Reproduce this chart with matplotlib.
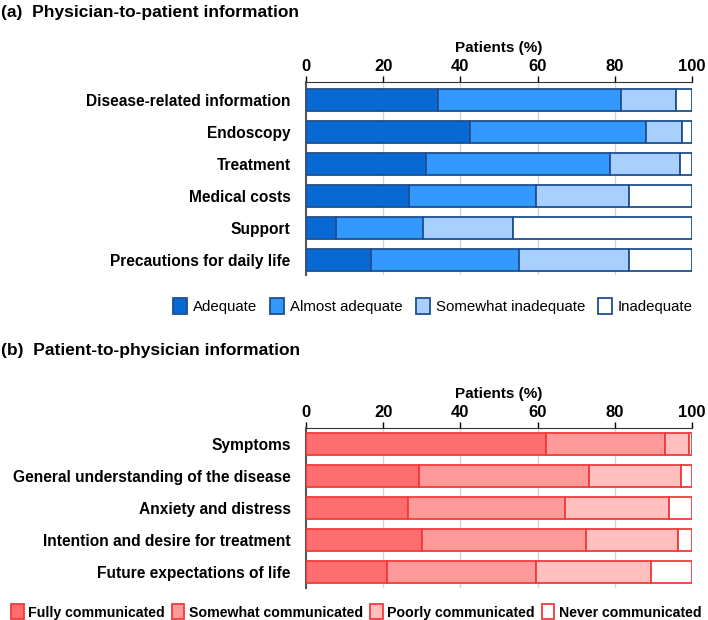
import numpy as np
import matplotlib.pyplot as plt
from matplotlib.patches import Patch

plt.rcParams['font.family'] = ['Liberation Sans', 'DejaVu Sans']

# panel (a) data
items_a = ['Disease-related information', 'Endoscopy', 'Treatment',
           'Medical costs', 'Support', 'Precautions for daily life']
levels_a = ['Adequate', 'Almost adequate', 'Somewhat inadequate', 'Inadequate']
adequate = [34.1, 42.5, 31.1, 26.6, 7.9, 16.8]
almost_adequate = [47.5, 45.6, 47.7, 33.0, 22.4, 38.4]
somewhat_inadequate = [14.3, 9.2, 18.1, 24.2, 23.2, 28.5]
inadequate = [4.1, 2.7, 3.1, 16.2, 46.5, 16.3]
colors_a = ['#0868d4', '#3399ff', '#a8d0fc', '#ffffff']
edge_a = '#1f4f8f'

# panel (b) data
items_b = ['Symptoms', 'General understanding of the disease',
           'Anxiety and distress', 'Intention and desire for treatment',
           'Future expectations of life']
levels_b = ['Fully communicated', 'Somewhat communicated',
            'Poorly communicated', 'Never communicated']
fully = [62.1, 29.2, 26.3, 30.1, 21.1]
somewhat = [31.0, 44.0, 40.8, 42.4, 38.5]
poorly = [6.0, 23.9, 26.9, 23.9, 29.8]
never = [0.9, 2.9, 6.0, 3.6, 10.6]
colors_b = ['#ff6e6e', '#ff9a9a', '#ffbfbf', '#ffffff']
edge_b = '#f23a3a'

W, H = 708, 620
fig = plt.figure(figsize=(W / 100, H / 100), dpi=100)


def px_axes(left, top, right, bottom):
    return fig.add_axes([left / W, 1 - bottom / H, (right - left) / W, (bottom - top) / H])


def stacked(ax, items, series, colors, edge, ylim):
    y = np.arange(len(items))
    left = np.zeros(len(items))
    for vals, c in zip(series, colors):
        ax.barh(y, vals, left=left, height=0.69, color=c, edgecolor=edge,
                linewidth=1.3, zorder=3)
        left += np.asarray(vals)
    ax.set_xlim(0, 100)
    ax.set_ylim(*ylim)
    ax.set_yticks(y)
    ax.set_yticklabels(items, fontsize=11.2, fontweight='bold')
    ax.tick_params(axis='y', length=0, pad=11)
    ax.xaxis.tick_top()
    ax.xaxis.set_label_position('top')
    ax.set_xticks([0, 20, 40, 60, 80, 100])
    ax.set_xticklabels(['0', '20', '40', '60', '80', '100'], fontsize=12, fontweight='bold')
    ax.tick_params(axis='x', length=4, width=1, pad=2)
    ax.set_xlabel('Patients (%)', fontsize=11, fontweight='bold', labelpad=5)
    ax.grid(axis='x', color='#d4d4d4', linewidth=1, zorder=0)
    for s in ['right', 'bottom']:
        ax.spines[s].set_visible(False)
    ax.spines['top'].set_color('#333333')
    ax.spines['left'].set_color('#555555')
    ax.spines['left'].set_linewidth(1.5)


ax_a = px_axes(306, 82, 692, 275)
stacked(ax_a, items_a, [adequate, almost_adequate, somewhat_inadequate, inadequate],
        colors_a, edge_a, (5.47, -0.56))

ax_b = px_axes(306, 428, 692, 588)
stacked(ax_b, items_b, [fully, somewhat, poorly, never],
        colors_b, edge_b, (4.5, -0.5))

fig.text(0.002, 1 - 12 / H, '(a)  Physician-to-patient information', fontsize=12.5,
         fontweight='bold', va='center', ha='left')
fig.text(0.002, 1 - 351 / H, '(b)  Patient-to-physician information', fontsize=12.5,
         fontweight='bold', va='center', ha='left')

handles_a = [Patch(facecolor=c, edgecolor=edge_a, linewidth=1.3) for c in colors_a]
fig.legend(handles_a, levels_a, ncol=4, loc='center', frameon=False,
           bbox_to_anchor=(433 / W, 1 - 306 / H), fontsize=10.8,
           handlelength=0.9, handleheight=1.2, handletextpad=0.4, columnspacing=0.9)

handles_b = [Patch(facecolor=c, edgecolor=edge_b, linewidth=1.3) for c in colors_b]
fig.legend(handles_b, levels_b, ncol=4, loc='center', frameon=False,
           bbox_to_anchor=(356 / W, 1 - 612 / H), prop={'size': 10.2, 'weight': 'bold'},
           handlelength=0.9, handleheight=1.2, handletextpad=0.3, columnspacing=0.5)

fig.savefig('out.png', dpi=100)
